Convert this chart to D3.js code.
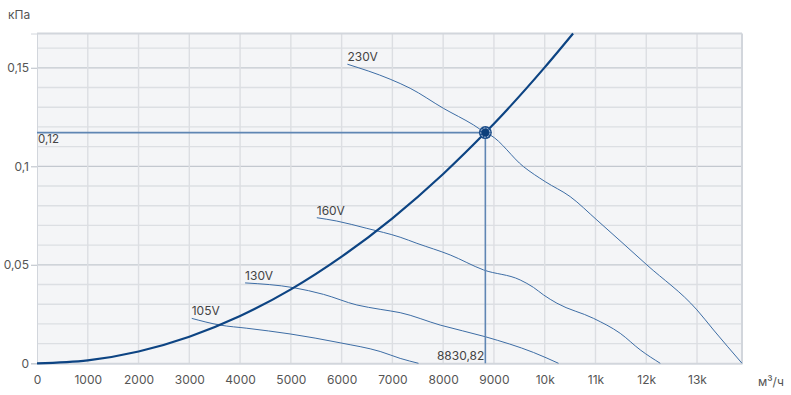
<!DOCTYPE html>
<html>
<head>
<meta charset="utf-8">
<script src="https://cdn.jsdelivr.net/npm/d3@7"></script>
<style>
  body { margin: 0; background: #fff; }
  svg text { font-family: Inter, "Noto Sans", sans-serif; }
</style>
</head>
<body>
<div id="chart"></div>
<script>
/* DATA (flow m³/h, pressure kPa) */
const fan230 = [[6114,0.1518],[6956,0.1442],[7350,0.1396],[8006,0.1294],[8597,0.1210],[8831,0.1171],[8926,0.1159],[9583,0.0998],[10010,0.0922],[10502,0.0846],[11029,0.0727],[12014,0.0499],[12999,0.0271],[13326,0.0169],[13886,0]];
const fan160 = [[5511,0.0739],[5905,0.0722],[6496,0.0685],[7153,0.0640],[7482,0.0609],[8138,0.0550],[8795,0.0474],[9517,0.0423],[9780,0.0385],[9977,0.0347],[10240,0.0305],[10962,0.0228],[11488,0.0152],[11882,0.0068],[12276,0]];
const fan130 = [[4099,0.0408],[5051,0.0384],[5642,0.0350],[6300,0.0296],[6759,0.0274],[7153,0.0257],[7941,0.0194],[8828,0.0135],[9779,0.0055],[10272,0]];
const fan105 = [[3048,0.0228],[3606,0.0194],[4132,0.0178],[4985,0.0149],[5970,0.0104],[6759,0.0060],[7153,0.0025],[7514,0]];
const systemCurve = [[0,0],[1000,0.0015],[2000,0.0060],[3000,0.0135],[4000,0.0240],[5000,0.0375],[6000,0.0541],[7000,0.0736],[8000,0.0961],[8831,0.1171],[9000,0.1216],[10000,0.1502],[10559,0.1674]];
const fanLabels = ["230V", "160V", "130V", "105V"];
const workFlow = 8830.82, workPressure = 0.1171;
const xTicks = [0,1000,2000,3000,4000,5000,6000,7000,8000,9000,10000,11000,12000,13000];
const yTicks = [0, 0.05, 0.1, 0.15];

const width = 791, height = 395,
  margin = { top: 33.5, right: 49, bottom: 31.7, left: 37 };

const svg = d3.select("#chart").append("svg")
  .attr("width", width)
  .attr("height", height);

const xScale = d3.scaleLinear().domain([0, 13886]).range([margin.left, width - margin.right]);
const yScale = d3.scaleLinear().domain([0, 0.1674]).range([height - margin.bottom, margin.top]);

const comma = v => String(v).replace(".", ",");

// plot background
svg.append("rect")
  .attr("x", margin.left).attr("y", margin.top)
  .attr("width", xScale.range()[1] - margin.left)
  .attr("height", yScale.range()[0] - margin.top)
  .attr("fill", "#f4f5f7");

// grid
const minor = d3.range(1, 17).map(i => i / 100);
svg.append("g").selectAll("line")
  .data(minor)
  .join("line")
  .attr("x1", margin.left).attr("x2", xScale.range()[1])
  .attr("y1", d => yScale(d)).attr("y2", d => yScale(d))
  .attr("stroke", d => (Math.round(d * 100) % 5 === 0) ? "#c3c8cf" : "#dcdfe3")
  .attr("stroke-width", d => (Math.round(d * 100) % 5 === 0) ? 1.2 : 1.4);

svg.append("g").selectAll("line")
  .data(xTicks.slice(1))
  .join("line")
  .attr("x1", d => xScale(d)).attr("x2", d => xScale(d))
  .attr("y1", margin.top).attr("y2", yScale(0))
  .attr("stroke", "#dcdee2")
  .attr("stroke-width", 1.4);

// borders top and right
svg.append("line")
  .attr("x1", margin.left).attr("x2", xScale.range()[1])
  .attr("y1", margin.top).attr("y2", margin.top)
  .attr("stroke", "#d2d6dc").attr("stroke-width", 2);
svg.append("line")
  .attr("x1", xScale.range()[1]).attr("x2", xScale.range()[1])
  .attr("y1", margin.top).attr("y2", yScale(0))
  .attr("stroke", "#d2d6dc").attr("stroke-width", 2);

// axes
const xAxis = d3.axisBottom(xScale)
  .tickValues(xTicks)
  .tickSize(0)
  .tickPadding(12)
  .tickFormat(d => d >= 10000 ? (d / 1000) + "k" : d);

const yAxis = d3.axisLeft(yScale)
  .tickValues(yTicks)
  .tickSize(6)
  .tickPadding(2)
  .tickFormat(comma);

const gx = svg.append("g")
  .attr("transform", `translate(0, ${yScale(0)})`)
  .call(xAxis);
gx.select(".domain").attr("stroke", "#d2d6dc").attr("stroke-width", 2);
gx.selectAll("text").attr("fill", "#555").attr("font-size", 12);

const gy = svg.append("g")
  .attr("transform", `translate(${margin.left}, 0)`)
  .call(yAxis);
gy.select(".domain").attr("stroke", "#d2d6dc").attr("stroke-width", 1);
gy.selectAll(".tick line").attr("stroke", "#c3c8cf").attr("stroke-width", 1.2);
gy.selectAll("text").attr("fill", "#555").attr("font-size", 12);

// unit labels
svg.append("text").attr("x", 8).attr("y", 19)
  .attr("font-size", 12).attr("fill", "#555").text("кПа");
svg.append("text").attr("x", 758).attr("y", 386)
  .attr("font-size", 12).attr("fill", "#555").text("м³/ч");

// fan curves
const line = d3.line()
  .x(d => xScale(d[0]))
  .y(d => yScale(d[1]))
  .curve(d3.curveMonotoneX);

const fans = [fan230, fan160, fan130, fan105];
svg.append("g").selectAll("path")
  .data(fans)
  .join("path")
  .attr("d", line)
  .attr("fill", "none")
  .attr("stroke", "#3d6da5")
  .attr("stroke-width", 1);

svg.append("g").selectAll("text")
  .data(fans)
  .join("text")
  .attr("x", d => xScale(d[0][0]))
  .attr("y", d => yScale(d[0][1]) - 3)
  .attr("font-size", 12)
  .attr("fill", "#444")
  .text((d, i) => fanLabels[i]);

// operating point guides
svg.append("line")
  .attr("x1", margin.left).attr("x2", xScale(workFlow))
  .attr("y1", yScale(workPressure)).attr("y2", yScale(workPressure))
  .attr("stroke", "#5f86b3").attr("stroke-width", 1.6);
svg.append("line")
  .attr("x1", xScale(workFlow)).attr("x2", xScale(workFlow))
  .attr("y1", yScale(workPressure)).attr("y2", yScale(0))
  .attr("stroke", "#5f86b3").attr("stroke-width", 1.6);

svg.append("text")
  .attr("x", margin.left + 1).attr("y", yScale(workPressure) + 10)
  .attr("font-size", 11.5).attr("fill", "#444")
  .text("0,12");
svg.append("text")
  .attr("x", xScale(workFlow) - 1).attr("y", yScale(0) - 3)
  .attr("text-anchor", "end")
  .attr("font-size", 12).attr("fill", "#444")
  .text(comma(workFlow));

// system curve
svg.append("path")
  .datum(systemCurve)
  .attr("d", d3.line().x(d => xScale(d[0])).y(d => yScale(d[1])).curve(d3.curveMonotoneX))
  .attr("fill", "none")
  .attr("stroke", "#0d4483")
  .attr("stroke-width", 2.2);

// operating point marker
const px = xScale(workFlow), py = yScale(workPressure);
svg.append("circle").attr("cx", px).attr("cy", py).attr("r", 6.5).attr("fill", "#1d4e8a");
svg.append("circle").attr("cx", px).attr("cy", py).attr("r", 4.6)
  .attr("fill", "none").attr("stroke", "#c9d6e6").attr("stroke-width", 0.9)
  .attr("stroke-dasharray", "2,1.2");
svg.append("circle").attr("cx", px).attr("cy", py).attr("r", 3.6).attr("fill", "#0d3f7a");
</script>
</body>
</html>
